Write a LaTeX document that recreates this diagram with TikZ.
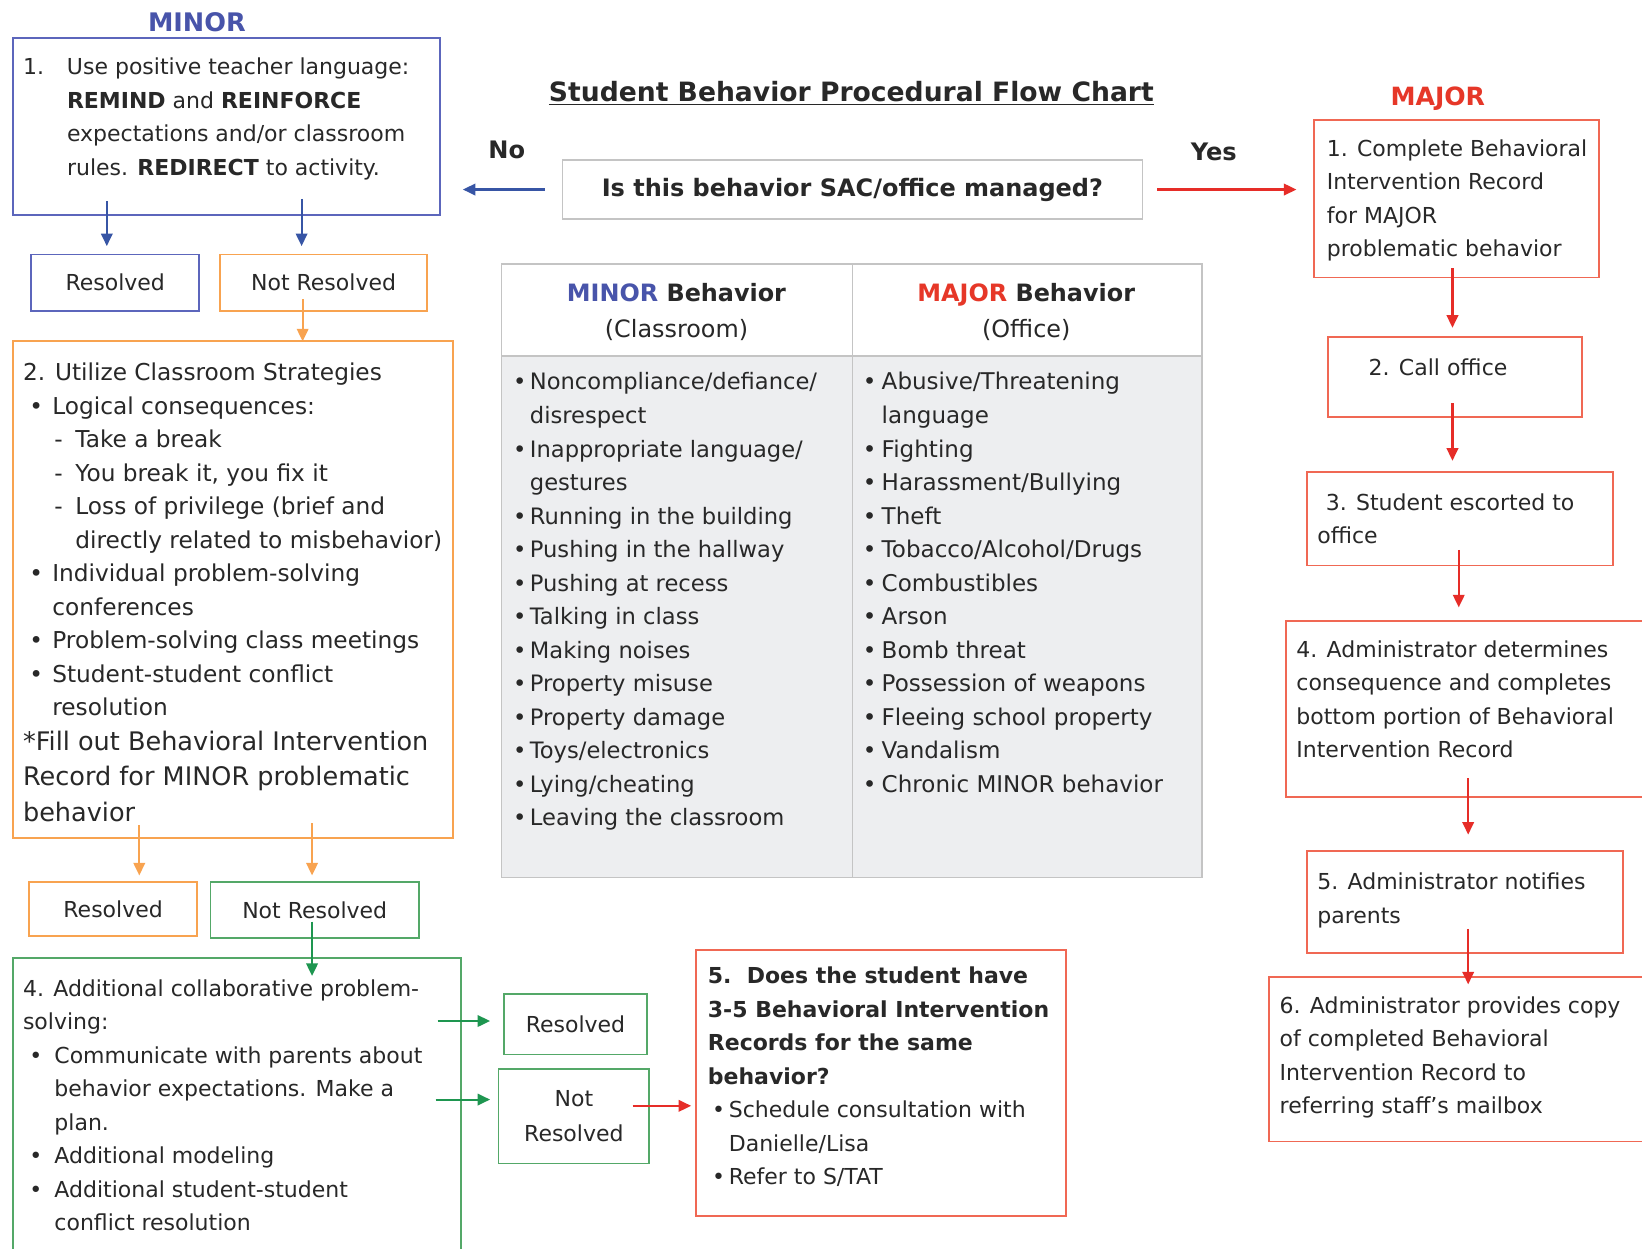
\documentclass[tikz,border=0pt]{standalone}
\usepackage{fontspec}
\setmainfont{DejaVu Sans}
\usetikzlibrary{arrows.meta}
\definecolor{txtc}{RGB}{40,40,40}
\definecolor{blueB}{RGB}{92,102,188}
\definecolor{blueA}{RGB}{55,85,165}
\definecolor{blueT}{RGB}{72,84,170}
\definecolor{orng}{RGB}{248,163,80}
\definecolor{grnB}{RGB}{84,168,104}
\definecolor{grnA}{RGB}{30,150,80}
\definecolor{redB}{RGB}{240,104,84}
\definecolor{redA}{RGB}{230,45,40}
\definecolor{redT}{RGB}{230,55,40}
\definecolor{grayL}{RGB}{196,196,196}
\definecolor{cellF}{RGB}{237,238,240}
\newcommand\mybox[7]{\node[#2, anchor=north west, minimum width={(#5-#3)*0.5pt}, minimum height={(#6-#4)*0.5pt}] (#1) at (#3,#4) {#7};}
\newcommand\Bi[3]{\hspace*{#1}\makebox[#2][l]{•}#3}
\newcommand\Dsh[3]{\hspace*{#1}\makebox[#2][l]{-}#3}
\newcommand\Lrg[1]{{\fontsize{12.2}{16}\selectfont #1}}
\begin{document}
\begin{tikzpicture}[x=0.5pt,y=-0.5pt,
 box/.style={draw,line width=0.9pt,inner sep=0pt,outer sep=0pt,text=txtc,align=center,font=\fontsize{10.5}{16}\selectfont},
 bbox/.style={box,draw=blueB}, obox/.style={box,draw=orng}, gbox/.style={box,draw=grnB},
 rbox/.style={box,draw=redB}, qbox/.style={box,draw=grayL,line width=0.8pt},
 cellh/.style={draw=grayL,line width=0.8pt,inner sep=0pt,outer sep=0pt,fill=white},
 cellb/.style={cellh,fill=cellF},
 txt/.style={anchor=north west,inner sep=0pt,outer sep=0pt,align=left,text=txtc,font=\fontsize{10.5}{16}\selectfont},
 lbl/.style={inner sep=0pt,text=txtc,font=\bfseries\fontsize{11.5}{13}\selectfont},
 arr/.style={line width=1pt,-{Triangle[length=6pt,width=5.5pt]}},
 barr/.style={arr,draw=blueA}, oarr/.style={arr,draw=orng}, garr/.style={arr,draw=grnA}, rarr/.style={arr,draw=redA}]
\useasboundingbox (0,0) rectangle (1568,1192);
\clip (0,0) rectangle (1568,1192);
\fill[white] (0,0) rectangle (1568,1192);

% ---------- left column (MINOR) ----------
\node[lbl,text=blueT,font=\bfseries\fontsize{12.2}{14}\selectfont] (minorlbl) at (188,21) {MINOR};
\mybox{b1}{bbox}{12}{36}{420}{205}{}
\node[txt] (t1) at (22,49) {\strut\makebox[21pt][l]{1.}Use positive teacher language:\\
\hspace*{21pt}\textbf{REMIND} and \textbf{REINFORCE}\\
\hspace*{21pt}expectations and/or classroom\\
\hspace*{21pt}rules. \textbf{REDIRECT} to activity.};
\mybox{r1}{bbox}{30}{243}{190}{297}{Resolved}
\mybox{nr1}{obox}{210}{243}{408}{297}{Not Resolved}

\mybox{b2}{obox}{12}{326}{433}{800}{}
\node[txt,font=\fontsize{11.1}{16}\selectfont] (t2) at (22,341) {\strut 2. Utilize Classroom Strategies\\
\Bi{3pt}{11pt}{Logical consequences:}\\
\Dsh{15pt}{10pt}{Take a break}\\
\Dsh{15pt}{10pt}{You break it, you fix it}\\
\Dsh{15pt}{10pt}{Loss of privilege (brief and}\\
\hspace*{25pt}directly related to misbehavior)\\
\Bi{3pt}{11pt}{Individual problem-solving}\\
\hspace*{14pt}conferences\\
\Bi{3pt}{11pt}{Problem-solving class meetings}\\
\Bi{3pt}{11pt}{Student-student conflict}\\
\hspace*{14pt}resolution\\[0.5pt]
\Lrg{*Fill out Behavioral Intervention}\\[1pt]
\Lrg{Record for MINOR problematic}\\[1pt]
\Lrg{behavior}};
\mybox{r2}{obox}{28}{842}{188}{894}{Resolved}
\mybox{nr2}{gbox}{201}{842}{400}{896}{Not Resolved}

\mybox{b4}{gbox}{12}{915}{440}{1210}{}
\node[txt] (t4) at (22,929) {\strut 4. Additional collaborative problem-\\
solving:\\
\Bi{3pt}{12pt}{Communicate with parents about}\\
\hspace*{15pt}behavior expectations. Make a\\
\hspace*{15pt}plan.\\
\Bi{3pt}{12pt}{Additional modeling}\\
\Bi{3pt}{12pt}{Additional student-student}\\
\hspace*{15pt}conflict resolution};
\mybox{r3}{gbox}{481}{949}{618}{1007}{Resolved}
\mybox{nr3}{gbox}{476}{1021}{620}{1111}{Not\\[1pt]Resolved}

\mybox{b5}{rbox}{665}{907}{1018}{1161}{}
\node[txt] (t5) at (676,917) {\strut\textbf{5.\ \ Does the student have}\\
\textbf{3-5 Behavioral Intervention}\\
\textbf{Records for the same}\\
\textbf{behavior?}\\
\Bi{2pt}{8pt}{Schedule consultation with}\\
\hspace*{10pt}Danielle/Lisa\\
\Bi{2pt}{8pt}{Refer to S/TAT}};

% ---------- centre ----------
\node[lbl,font=\bfseries\fontsize{12.7}{14}\selectfont] (title) at (813,89) {\underline{Student Behavior Procedural Flow Chart}};
\node[lbl] (nolbl) at (484,143) {No};
\node[lbl] (yeslbl) at (1159,145) {Yes};
\mybox{q}{qbox}{537}{153}{1091}{209}{\bfseries\fontsize{11.45}{13}\selectfont Is this behavior SAC/office managed?}

\mybox{th1}{cellh}{479}{252}{814}{340}{}
\mybox{th2}{cellh}{814}{252}{1148}{340}{}
\mybox{tb1}{cellb}{479}{340}{814}{838}{}
\mybox{tb2}{cellb}{814}{340}{1148}{838}{}
\node[align=center,text=txtc,inner sep=0pt,font=\fontsize{11.4}{17}\selectfont] (h1) at (646,298) {\textbf{\textcolor{blueT}{MINOR} Behavior}\\(Classroom)};
\node[align=center,text=txtc,inner sep=0pt,font=\fontsize{11.4}{17}\selectfont] (h2) at (980,298) {\textbf{\textcolor{redT}{MAJOR} Behavior}\\(Office)};
\node[txt,font=\fontsize{10.8}{16}\selectfont] (l1) at (490,350) {\strut\Bi{0pt}{8pt}{Noncompliance/defiance/}\\
\hspace*{8pt}disrespect\\
\Bi{0pt}{8pt}{Inappropriate language/}\\
\hspace*{8pt}gestures\\
\Bi{0pt}{8pt}{Running in the building}\\
\Bi{0pt}{8pt}{Pushing in the hallway}\\
\Bi{0pt}{8pt}{Pushing at recess}\\
\Bi{0pt}{8pt}{Talking in class}\\
\Bi{0pt}{8pt}{Making noises}\\
\Bi{0pt}{8pt}{Property misuse}\\
\Bi{0pt}{8pt}{Property damage}\\
\Bi{0pt}{8pt}{Toys/electronics}\\
\Bi{0pt}{8pt}{Lying/cheating}\\
\Bi{0pt}{8pt}{Leaving the classroom}};
\node[txt,font=\fontsize{11}{16}\selectfont] (l2) at (824,350) {\strut\Bi{0pt}{9pt}{Abusive/Threatening}\\
\hspace*{9pt}language\\
\Bi{0pt}{9pt}{Fighting}\\
\Bi{0pt}{9pt}{Harassment/Bullying}\\
\Bi{0pt}{9pt}{Theft}\\
\Bi{0pt}{9pt}{Tobacco/Alcohol/Drugs}\\
\Bi{0pt}{9pt}{Combustibles}\\
\Bi{0pt}{9pt}{Arson}\\
\Bi{0pt}{9pt}{Bomb threat}\\
\Bi{0pt}{9pt}{Possession of weapons}\\
\Bi{0pt}{9pt}{Fleeing school property}\\
\Bi{0pt}{9pt}{Vandalism}\\
\Bi{0pt}{9pt}{Chronic MINOR behavior}};

% ---------- right column (MAJOR) ----------
\node[lbl,text=redT,font=\bfseries\fontsize{12}{14}\selectfont] (majorlbl) at (1373,94) {MAJOR};
\mybox{m1}{rbox}{1255}{115}{1527}{265}{}
\node[txt] (tm1) at (1267,127) {\strut 1. Complete Behavioral\\Intervention Record\\for MAJOR\\problematic behavior};
\mybox{m2}{rbox}{1268}{322}{1511}{398}{}
\node[txt] (tm2) at (1307,336) {\strut 2. Call office};
\mybox{m3}{rbox}{1248}{451}{1540}{540}{}
\node[txt] (tm3) at (1258,465) {\strut\hspace*{4pt}3. Student escorted to\\office};
\mybox{m4}{rbox}{1228}{593}{1590}{761}{}
\node[txt] (tm4) at (1238,605) {\strut 4. Administrator determines\\consequence and completes\\bottom portion of Behavioral\\Intervention Record};
\mybox{m5}{rbox}{1248}{813}{1550}{910}{}
\node[txt] (tm5) at (1258,827) {\strut 5. Administrator notifies\\parents};
\mybox{m6}{rbox}{1212}{933}{1590}{1090}{}
\node[txt] (tm6) at (1222,945) {\strut 6. Administrator provides copy\\of completed Behavioral\\Intervention Record to\\referring staff's mailbox};

% ---------- connectors ----------
\draw[barr] ([xshift=-8.5pt]q.west) -- ([xshift=11pt]q.west -| b1.east);
\draw[rarr] ([xshift=7pt]q.east) -- ([xshift=-8.5pt]q.east -| m1.west);
\coordinate (a1) at (102,192); \draw[barr] (a1) -- ([yshift=4pt]a1 |- r1.north);
\coordinate (a2) at (288,190); \draw[barr] (a2) -- ([yshift=4pt]a2 |- nr1.north);
\coordinate (a3) at (289,286); \draw[oarr] (a3) -- (a3 |- b2.north);
\coordinate (a4) at (133,788); \draw[oarr] (a4) -- ([yshift=3pt]a4 |- r2.north);
\coordinate (a5) at (298,786); \draw[oarr] (a5) -- ([yshift=3pt]a5 |- nr2.north);
\coordinate (a6) at (298,880); \draw[garr] (a6) -- ([yshift=-8.5pt]a6 |- b4.north);
\coordinate (a7) at (418,975); \draw[garr] (a7) -- ([xshift=-6.5pt]a7 -| r3.west);
\coordinate (a8) at (416,1050); \draw[garr] (a8) -- ([xshift=-4pt]a8 -| nr3.west);
\coordinate (a9) at (604,1056); \draw[rarr] (a9) -- ([xshift=-2.5pt]a9 -| b5.west);
\coordinate (c1) at (1387,256); \draw[rarr] (c1) -- ([yshift=4.5pt]c1 |- m2.north);
\coordinate (c2) at (1387,385); \draw[rarr] (c2) -- ([yshift=5.5pt]c2 |- m3.north);
\coordinate (c3) at (1393,525); \draw[rarr] (c3) -- ([yshift=6.5pt]c3 |- m4.north);
\coordinate (c4) at (1402,743); \draw[rarr] (c4) -- ([yshift=8pt]c4 |- m5.north);
\coordinate (c5) at (1402,887); \draw[rarr] (c5) -- ([yshift=-3.5pt]c5 |- m6.north);
\end{tikzpicture}
\end{document}
